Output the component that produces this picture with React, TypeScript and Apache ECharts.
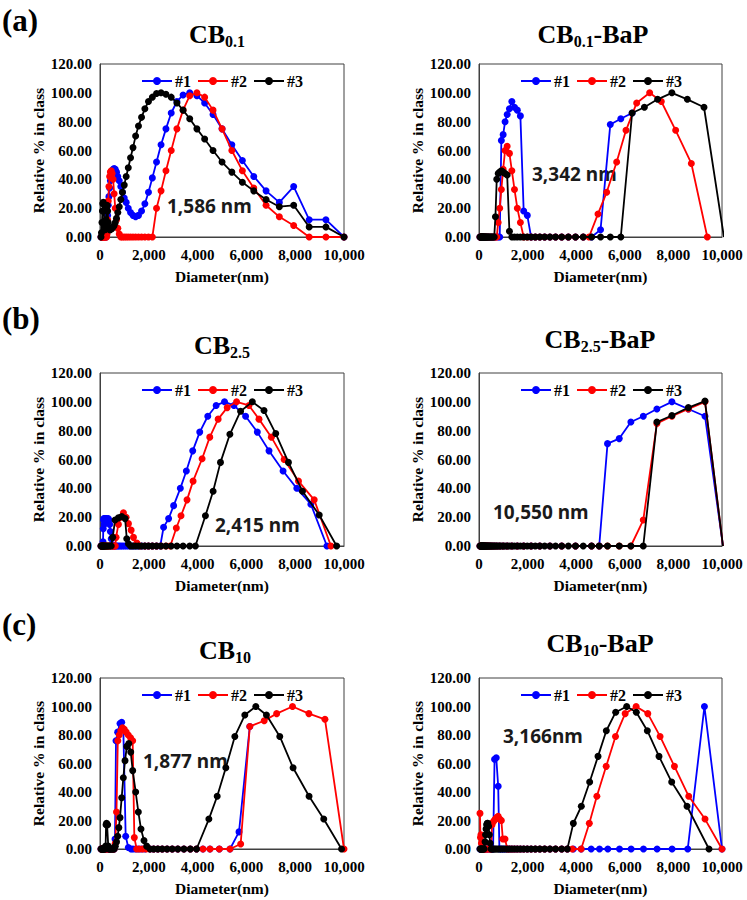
import React, { useEffect, useRef } from 'react';
import * as echarts from 'echarts';

// ---------- data: [diameter (nm), relative % in class] ----------
const CB01_1 = [[40,0],[60,0],[80,0],[99,0],[115,0],[134,0],[157,0],[183,0],[213,0],[249,0],[269,2],[290,8],[313,15],[338,22],[365,28],[395,34],[426,39],[460,43],[497,45],[537,47],[580,47.5],[626,47],[676,45],[730,42],[789,39],[852,35],[920,31],[994,27],[1073,24],[1159,20],[1252,17],[1352,15],[1460,14],[1577,15],[1703,18],[1839,23],[1987,31],[2145,41],[2317,52],[2502,64],[2703,75],[2919,86],[3152,94],[3405,98.5],[3677,100],[3971,98],[4289,93],[4632,85],[5002,75],[5403,64],[5835,53],[6302,42],[6806,32],[7350,24],[7938,35],[8573,12],[9259,12],[10000,0]];
const CB01_2 = [[40,0],[60,0],[80,0],[99,0],[115,0],[134,0],[157,0],[183,0],[213,0],[249,0],[269,0],[290,2],[313,12],[338,25],[365,35],[395,42],[426,45],[460,46],[497,44],[537,40],[580,30],[626,20],[676,12],[730,6],[789,2],[852,0],[920,0],[994,0],[1073,0],[1159,0],[1252,0],[1352,0],[1460,0],[1577,0],[1703,0],[1839,0],[1987,0],[2145,0],[2317,20],[2502,32],[2703,46],[2919,60],[3152,75],[3405,88],[3677,98],[3971,100],[4289,97],[4632,88],[5002,75],[5403,60],[5835,46],[6302,34],[6806,22],[7350,14],[7938,8],[8573,0],[9259,0],[10000,0]];
const CB01_3 = [[40,0],[60,3],[80,10],[99,18],[115,23],[134,24],[157,18],[183,8],[213,5],[249,12],[269,20],[290,22],[313,18],[338,10],[365,6],[395,5],[426,5],[460,6],[497,6],[537,7],[580,8],[626,10],[676,13],[730,17],[789,21],[852,26],[920,31],[994,36],[1073,42],[1159,48],[1252,55],[1352,62],[1460,70],[1577,77],[1703,83],[1839,89],[1987,94],[2145,97],[2317,99.5],[2502,100],[2703,99],[2919,97],[3152,93],[3405,88],[3677,82],[3971,75],[4289,68],[4632,60],[5002,52],[5403,45],[5835,38],[6302,32],[6806,26],[7350,21],[7938,22],[8573,7],[9259,7],[10000,0]];

const CB01BAP_1 = [[40,0],[60,0],[80,0],[99,0],[124,0],[157,0],[197,0],[249,0],[313,0],[395,0],[497,0],[580,0],[676,0],[789,0],[852,0],[920,67],[994,71],[1073,80],[1159,85],[1252,89],[1352,94],[1460,90],[1577,88],[1703,84],[1839,18],[1987,15],[2145,0],[2317,0],[2502,0],[2703,0],[2919,0],[3152,0],[3405,0],[3677,0],[3971,0],[4289,0],[4632,0],[5002,5],[5403,78],[5835,82],[6302,86]];
const CB01BAP_2 = [[40,0],[60,0],[80,0],[99,0],[124,0],[157,0],[197,0],[249,0],[313,0],[395,0],[497,0],[580,0],[676,0],[730,0],[789,10],[852,20],[920,33],[994,47],[1073,60],[1159,63],[1252,58],[1352,46],[1460,33],[1577,20],[1703,10],[1839,0],[1987,0],[2145,0],[2317,0],[2502,0],[2703,0],[2919,0],[3152,0],[3405,0],[3677,0],[3971,0],[4289,0],[4527,0],[4897,16],[5254,31],[5665,52],[6049,74],[6488,93],[7023,100],[7503,94],[8093,74],[8738,51],[9396,0]];
const CB01BAP_3 = [[40,0],[60,0],[80,0],[99,0],[107,0],[115,0],[124,0],[134,0],[145,0],[157,0],[169,0],[183,0],[197,0],[213,0],[230,0],[249,0],[269,0],[290,0],[313,0],[338,0],[365,0],[395,0],[426,0],[460,0],[497,0],[537,0],[580,0],[626,0],[676,14],[730,40],[789,44],[852,45],[920,46],[994,45],[1073,44],[1159,43],[1252,4],[1352,0],[1460,0],[1577,0],[1703,0],[1839,0],[1987,0],[2145,0],[2317,0],[2502,0],[2703,0],[2919,0],[3152,0],[3405,0],[3677,0],[3971,0],[4289,0],[4632,0],[5002,0],[5403,0],[5835,0],[6302,86],[6806,90],[7350,95.5],[7938,100],[8573,95.5],[9259,90],[10080,0]];

const CB25_1 = [[40,0],[60,0],[80,0],[99,0],[115,0],[124,3],[134,12],[145,18],[157,19],[169,15],[183,18],[197,19],[213,17],[230,19],[249,18],[269,19],[290,17],[313,18],[338,19],[365,18],[395,15],[426,10],[460,5],[497,1],[537,0],[580,0],[626,0],[676,0],[730,0],[789,0],[852,0],[920,0],[994,0],[1073,0],[1159,0],[1252,0],[1352,0],[1460,0],[1577,0],[1703,0],[1839,0],[1987,0],[2145,0],[2317,0],[2469,0],[2606,13],[2812,19],[3018,28],[3292,40],[3539,52],[3800,66],[4088,79],[4417,90],[4760,97.5],[5103,100],[5487,97.5],[5967,90],[6448,79],[6926,66],[7503,52],[8066,40],[8642,29],[9300,0]];
const CB25_2 = [[40,0],[60,0],[80,0],[99,0],[115,0],[134,0],[157,0],[183,0],[213,0],[249,0],[290,0],[338,0],[395,0],[460,0],[537,0],[580,0],[626,0],[658,6],[754,15],[850,20],[960,23],[1070,20],[1166,15.5],[1276,11],[1372,6],[1509,2],[1646,0],[1839,0],[1987,0],[2145,0],[2317,0],[2502,0],[2703,0],[2881,0],[3128,12.5],[3320,21],[3567,32],[3814,45],[4184,60.5],[4499,75.5],[4842,88],[5213,96],[5597,100],[6104,97.5],[6516,88],[7023,75.5],[7545,60],[8134,45],[8779,32],[9465,0]];
const CB25_3 = [[40,0],[60,0],[80,0],[99,0],[115,0],[134,0],[157,0],[183,0],[213,0],[249,0],[290,0],[338,0],[395,0],[460,0],[521,6],[617,18],[754,19.5],[892,20.5],[1029,19],[1097,5],[1166,1.5],[1252,0],[1352,0],[1460,0],[1577,0],[1703,0],[1839,0],[1987,0],[2145,0],[2317,0],[2502,0],[2703,0],[2919,0],[3152,0],[3405,0],[3677,0],[3909,0],[4321,21],[4636,38],[4938,58],[5323,77.5],[5761,93.5],[6242,100],[6722,94],[7202,78],[7723,58],[8299,38],[8985,21.5],[9698,0]];

const CB25BAP_1 = [[40,0],[60,0],[80,0],[99,0],[115,0],[134,0],[157,0],[183,0],[213,0],[249,0],[290,0],[338,0],[395,0],[460,0],[537,0],[626,0],[730,0],[852,0],[994,0],[1159,0],[1352,0],[1577,0],[1839,0],[2145,0],[2502,0],[2919,0],[3405,0],[3971,0],[4632,0],[4947,0],[5289,71],[5771,74.5],[6249,86],[6760,90],[7321,95],[7939,100],[8615,95],[9300,90],[10040,0]];
const CB25BAP_2 = [[40,0],[60,0],[80,0],[99,0],[115,0],[134,0],[157,0],[183,0],[213,0],[249,0],[290,0],[338,0],[395,0],[460,0],[537,0],[626,0],[730,0],[852,0],[994,0],[1159,0],[1352,0],[1577,0],[1839,0],[2145,0],[2502,0],[2919,0],[3405,0],[3971,0],[4632,0],[4947,0],[5289,0],[5771,0],[6249,0],[6760,18],[7321,85],[7939,90],[8615,95],[9300,100],[10040,0]];
const CB25BAP_3 = [[40,0],[60,0],[80,0],[99,0],[107,0],[115,0],[124,0],[134,0],[145,0],[157,0],[169,0],[183,0],[197,0],[213,0],[230,0],[249,0],[269,0],[290,0],[313,0],[338,0],[365,0],[395,0],[426,0],[460,0],[497,0],[537,0],[580,0],[626,0],[676,0],[730,0],[789,0],[852,0],[920,0],[994,0],[1073,0],[1159,0],[1252,0],[1352,0],[1460,0],[1577,0],[1703,0],[1839,0],[1987,0],[2145,0],[2317,0],[2502,0],[2703,0],[2919,0],[3152,0],[3405,0],[3677,0],[3971,0],[4289,0],[4632,0],[4947,0],[5289,0],[5771,0],[6249,0],[6760,0],[7321,86],[7939,90.5],[8615,96],[9300,100.5],[10040,0]];

const CB10_1 = [[40,0],[60,0],[80,0],[99,0],[115,0],[134,0],[157,0],[183,0],[213,0],[249,0],[290,0],[338,0],[395,0],[460,0],[537,0],[580,0],[614,7],[656,76],[724,82],[820,88],[888,89],[956,84],[1052,9],[1161,1],[1270,0],[1352,0],[1460,0],[1577,0],[1703,0],[1839,0],[2049,0],[2200,0],[2370,0],[2550,0],[2750,0],[2960,0],[3190,0],[3440,0],[3700,0],[3957,0],[4220,0],[4508,0],[4891,0],[5328,0],[5697,12],[6140,86]];
const CB10_2 = [[40,0],[60,0],[80,0],[99,0],[115,0],[134,0],[157,0],[183,0],[213,0],[249,0],[290,0],[338,0],[395,0],[460,0],[537,0],[580,0],[626,4],[676,26],[730,76],[789,80],[852,83],[920,85],[994,84],[1073,82],[1159,80],[1252,78],[1339,76],[1407,8],[1503,0],[1620,0],[1750,0],[1890,0],[2049,0],[2200,0],[2370,0],[2550,0],[2750,0],[2960,0],[3190,0],[3440,0],[3700,0],[3957,0],[4220,0],[4508,0],[4891,0],[5328,0],[5765,3.5],[6140,86],[6730,90],[7240,95],[7890,100],[8560,95],[9220,91],[10000,0]];
const CB10_3 = [[40,0],[60,0],[80,0],[99,0],[115,0],[134,0],[157,0],[183,0],[213,0],[230,2],[249,17],[269,18],[290,17],[313,17],[338,2],[365,0],[395,0],[426,0],[460,0],[497,0],[537,0],[580,0],[626,2],[676,5],[724,9],[770,15],[820,22],[888,36],[956,50],[1025,62],[1100,72],[1180,74],[1260,68],[1339,55],[1462,40],[1571,26],[1680,14],[1803,6],[1913,2],[2049,0],[2200,0],[2370,0],[2550,0],[2750,0],[2960,0],[3190,0],[3440,0],[3700,0],[3957,0],[4462,21],[4803,37],[5157,57],[5526,79],[5935,94],[6386,100],[6822,94],[7368,79],[7913,57],[8568,37],[9169,21],[9900,0]];

const CB10BAP_1 = [[40,0],[60,0],[80,0],[99,0],[115,0],[134,0],[157,0],[183,0],[213,0],[249,0],[290,0],[338,0],[395,0],[460,0],[537,0],[580,0],[640,63],[710,64],[790,44],[840,0],[920,0],[994,0],[1073,0],[1159,0],[1252,0],[1352,0],[1460,0],[1577,0],[1703,0],[1839,0],[1987,0],[2145,0],[2317,0],[2502,0],[2703,0],[2919,0],[3152,0],[3405,0],[3635,0],[3882,0],[4204,0],[4616,0],[4960,0],[5302,0],[5783,0],[6260,0],[6769,0],[7329,0],[7945,0],[8590,0],[9277,100],[10000,0]];
const CB10BAP_2 = [[40,25],[60,8],[80,10],[99,4],[115,0],[134,0],[157,0],[183,0],[213,0],[249,0],[290,0],[338,0],[395,0],[460,0],[497,0],[537,17],[580,19],[626,20],[676,21],[730,22],[789,23],[852,21],[920,20],[980,7],[1070,7],[1166,0],[1252,0],[1352,0],[1460,0],[1577,0],[1703,0],[1839,0],[1987,0],[2145,0],[2317,0],[2502,0],[2703,0],[2919,0],[3152,0],[3405,0],[3635,0],[3841,0],[4204,0],[4540,18],[4850,37],[5233,58],[5618,79],[6013,95],[6465,100],[6946,95],[7452,79],[8043,58],[8631,37],[9301,21],[10000,0]];
const CB10BAP_3 = [[40,0],[60,0],[80,0],[99,0],[115,0],[134,0],[157,0],[183,0],[213,0],[249,5],[269,10],[290,14],[313,17],[338,18],[365,18],[395,16],[426,10],[460,4],[497,0],[537,0],[580,0],[626,0],[676,0],[730,0],[789,0],[852,0],[920,0],[994,0],[1073,0],[1159,0],[1252,0],[1352,0],[1460,0],[1577,0],[1703,0],[1839,0],[1987,0],[2145,0],[2317,0],[2502,0],[2703,0],[2919,0],[3152,0],[3405,0],[3635,0],[3882,18],[4211,30],[4554,47],[4897,65],[5240,83],[5624,96],[6077,100],[6475,96],[6927,83],[7407,65],[7930,47],[8560,30],[9465,0]];

const SERIES_NAMES = ['#1', '#2', '#3'];
const SERIES_COLORS = ['#0000FF', '#FF0000', '#000000'];
const X_TICKS = { min: 0, max: 10000, interval: 2000 };
const Y_TICKS = { min: 0, max: 120, interval: 20 };
const X_NAME = 'Diameter(nm)';
const Y_NAME = 'Relative % in class';

const PANELS = [
  { letter: '(a)', sub: '0.1', suffix: '', note: '1,586 nm', data: [CB01_1, CB01_2, CB01_3] },
  { letter: '', sub: '0.1', suffix: '-BaP', note: '3,342 nm', data: [CB01BAP_1, CB01BAP_2, CB01BAP_3] },
  { letter: '(b)', sub: '2.5', suffix: '', note: '2,415 nm', data: [CB25_1, CB25_2, CB25_3] },
  { letter: '', sub: '2.5', suffix: '-BaP', note: '10,550 nm', data: [CB25BAP_1, CB25BAP_2, CB25BAP_3] },
  { letter: '(c)', sub: '10', suffix: '', note: '1,877 nm', data: [CB10_1, CB10_2, CB10_3] },
  { letter: '', sub: '10', suffix: '-BaP', note: '3,166nm', data: [CB10BAP_1, CB10BAP_2, CB10BAP_3] },
];

// layout (pixels)
const LAYOUT = [
  { left: 100, top: 64, width: 244, height: 173, titleX: 217, titleY: 34, noteX: 167, noteY: 206, letterY: 20 },
  { left: 479, top: 64, width: 243, height: 173, titleX: 593, titleY: 34, noteX: 532, noteY: 174 },
  { left: 100, top: 373, width: 244, height: 173, titleX: 222, titleY: 345, noteX: 215, noteY: 525, letterY: 318 },
  { left: 479, top: 373, width: 243, height: 173, titleX: 600, titleY: 339, noteX: 493, noteY: 512 },
  { left: 100, top: 678, width: 244, height: 171, titleX: 225, titleY: 650, noteX: 143, noteY: 761, letterY: 624 },
  { left: 479, top: 678, width: 243, height: 171, titleX: 600, titleY: 643, noteX: 503, noteY: 736 },
];

const SERIF = "'Liberation Serif', 'Times New Roman', serif";
const SANS = "'Noto Sans', 'Open Sans', sans-serif";
const AXIS_COLOR = '#404040';

export default function App() {
  const ref = useRef<HTMLDivElement>(null);
  useEffect(() => {
    if (!ref.current) return;
    const chart = echarts.init(ref.current, null, { renderer: 'svg' });

    const grid: any[] = [];
    const xAxis: any[] = [];
    const yAxis: any[] = [];
    const series: any[] = [];
    const legend: any[] = [];
    const graphic: any[] = [];

    PANELS.forEach((p, i) => {
      const L = LAYOUT[i];
      grid.push({
        left: L.left, top: L.top, width: L.width, height: L.height,
        show: true, borderColor: AXIS_COLOR, borderWidth: 1, backgroundColor: 'transparent',
      });
      xAxis.push({
        gridIndex: i, type: 'value', min: X_TICKS.min, max: X_TICKS.max, interval: X_TICKS.interval,
        axisLine: { show: true, lineStyle: { color: AXIS_COLOR, width: 1 } },
        axisTick: { show: false }, splitLine: { show: false },
        axisLabel: {
          margin: 10, color: '#000', fontFamily: SERIF, fontWeight: 'bold', fontSize: 15,
          formatter: (v: number) => v.toLocaleString('en-US'),
        },
        name: X_NAME, nameLocation: 'middle', nameGap: 31,
        nameTextStyle: { color: '#000', fontFamily: SERIF, fontWeight: 'bold', fontSize: 15.5 },
      });
      yAxis.push({
        gridIndex: i, type: 'value', min: Y_TICKS.min, max: Y_TICKS.max, interval: Y_TICKS.interval,
        axisLine: { show: true, lineStyle: { color: AXIS_COLOR, width: 1 } },
        axisTick: { show: false }, splitLine: { show: false },
        axisLabel: {
          margin: 8, color: '#000', fontFamily: SERIF, fontWeight: 'bold', fontSize: 15,
          formatter: (v: number) => v.toFixed(2),
        },
        name: Y_NAME, nameLocation: 'middle', nameRotate: 90, nameGap: 51,
        nameTextStyle: { color: '#000', fontFamily: SERIF, fontWeight: 'bold', fontSize: 15.5 },
      });
      p.data.forEach((d, k) => {
        series.push({
          type: 'line', name: SERIES_NAMES[k], xAxisIndex: i, yAxisIndex: i,
          data: d, symbol: 'circle', symbolSize: 7, showAllSymbol: true, clip: true,
          color: SERIES_COLORS[k],
          lineStyle: { color: SERIES_COLORS[k], width: 1.8 },
          itemStyle: { color: SERIES_COLORS[k] },
          z: 2 + k, silent: true,
        });
      });
      legend.push({
        data: SERIES_NAMES, left: L.left + 36, top: L.top + 4, orient: 'horizontal',
        itemWidth: 30, itemHeight: 10, itemGap: 6, selectedMode: false,
        textStyle: { color: '#000', fontFamily: SERIF, fontWeight: 'bold', fontSize: 16, padding: [0, 0, 0, -2] },
      });
      const titleText = `{m|CB}{s|${p.sub}}` + (p.suffix ? `{m|${p.suffix}}` : '');
      graphic.push({
        type: 'text', x: L.titleX, y: L.titleY,
        style: {
          text: titleText, align: 'center', verticalAlign: 'middle',
          rich: {
            m: { fontFamily: SERIF, fontWeight: 'bold', fontSize: 26, lineHeight: 30, fill: '#000', color: '#000' },
            s: { fontFamily: SERIF, fontWeight: 'bold', fontSize: 16, lineHeight: 16, verticalAlign: 'bottom', fill: '#000', color: '#000' },
          },
        },
      });
      graphic.push({
        type: 'text', x: L.noteX, y: L.noteY,
        style: { text: p.note, align: 'left', verticalAlign: 'middle', fontFamily: SANS, fontWeight: 'bold', fontSize: 19, fill: '#1a1a1a' },
      });
      if (p.letter) {
        graphic.push({
          type: 'text', x: 2, y: L.letterY,
          style: { text: p.letter, align: 'left', verticalAlign: 'middle', fontFamily: SERIF, fontWeight: 'bold', fontSize: 31, fill: '#000' },
        });
      }
    });

    chart.setOption({
      animation: false,
      backgroundColor: '#ffffff',
      grid, xAxis, yAxis, series, legend, graphic,
    });
    return () => chart.dispose();
  }, []);
  return <div ref={ref} style={{ position: 'absolute', left: 0, top: 0, width: 747, height: 900, background: '#fff' }} />;
}
